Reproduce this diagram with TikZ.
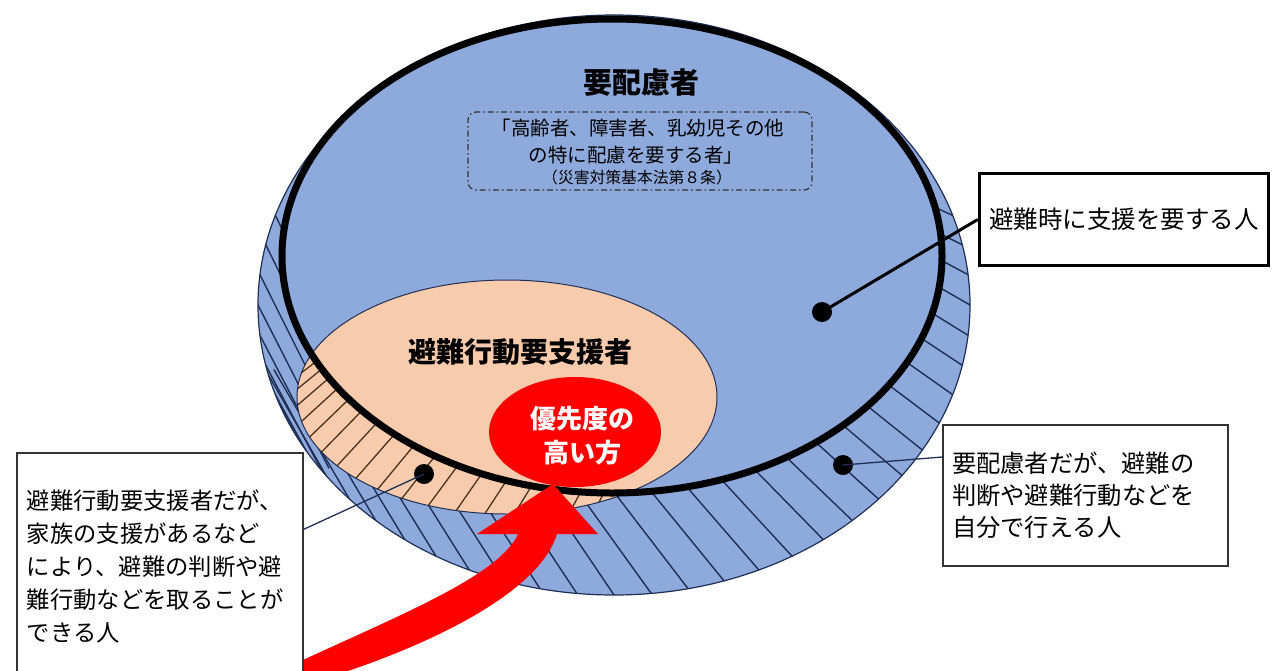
\documentclass[tikz,border=0pt]{standalone}
\usepackage{fontspec}
\setmainfont{Noto Sans CJK JP}
\usetikzlibrary{shapes.geometric}
\definecolor{ringblue}{HTML}{8EA9DB}
\definecolor{peach}{HTML}{F8CBAD}
\definecolor{navy}{HTML}{1F2F55}
\definecolor{hatchbrown}{HTML}{4A3220}
\definecolor{boxline}{HTML}{333333}
\begin{document}
\begin{tikzpicture}[x=1pt,y=-1pt,
  infobox/.style={draw=boxline, line width=1.3pt, fill=white, align=left, inner ysep=0pt},
  dot/.style={circle, fill=black, minimum size=20pt, inner sep=0pt},
  pointer/.style={draw=navy, line width=1.3pt},
  bluehatch/.style={draw=navy, line width=1.4pt},
  brownhatch/.style={draw=hatchbrown, line width=1.3pt},
  lbl/.style={inner sep=0pt}]
\useasboundingbox[fill=white] (0,0) rectangle (1274,670);

% outer ellipse
\path[fill=ringblue] (614,305) ellipse [x radius=356pt, y radius=290pt];
\begin{scope}
  \clip (614,305) ellipse [x radius=356pt, y radius=290pt];
  \foreach \t in {198,192,...,-18} {
    \pgfmathsetmacro{\ph}{\t>=90 ? 56+(\t-90)*7/90 : 30+\t*26/90}
    \pgfmathsetmacro{\px}{614+356*cos(\t)}
    \pgfmathsetmacro{\py}{305+290*sin(\t)}
    \pgfmathsetmacro{\dx}{150*cos(\ph)}
    \pgfmathsetmacro{\dy}{150*sin(\ph)}
    \draw[bluehatch] ({\px-(\dx)},{\py-(\dy)}) -- ({\px+\dx},{\py+\dy});
  }
\end{scope}
% inner area of thick ellipse
\path[fill=ringblue] (612,256) ellipse [x radius=330pt, y radius=237pt];
% orange ellipse
\path[fill=peach] (507,397) ellipse [x radius=210pt, y radius=117pt];
\begin{scope}
  \clip (507,397) ellipse [x radius=210pt, y radius=117pt];
  \foreach \t in {200,192,...,64} {
    \pgfmathsetmacro{\ps}{58-(\t-90)*0.2}
    \pgfmathsetmacro{\px}{507+210*cos(\t)}
    \pgfmathsetmacro{\py}{397+117*sin(\t)}
    \pgfmathsetmacro{\dx}{60*cos(\ps)}
    \pgfmathsetmacro{\dy}{60*sin(\ps)}
    \draw[brownhatch] ({\px-(\dx)},{\py+\dy}) -- ({\px+\dx},{\py-(\dy)});
  }
\end{scope}
\begin{scope}
  \clip (612,256) ellipse [x radius=330pt, y radius=237pt];
  \path[fill=peach] (507,397) ellipse [x radius=210pt, y radius=117pt];
\end{scope}
\draw[navy, line width=1pt] (507,397) ellipse [x radius=210pt, y radius=117pt];
\draw[navy, line width=1.2pt] (614,305) ellipse [x radius=356pt, y radius=290pt];
\draw[black, line width=7pt] (612,256) ellipse [x radius=330pt, y radius=237pt];

% texts in the big ellipse
\node[lbl, font=\fontsize{29pt}{29pt}\selectfont\bfseries] (title) at (641,83) {要配慮者};
\node[draw=boxline, line width=1.2pt, dash pattern=on 6pt off 3pt on 1.5pt off 3pt,
      rounded corners=8pt, minimum width=344pt, minimum height=78pt, inner sep=0pt] (defbox) at (640,151) {};
\node[lbl, font=\fontsize{19.5pt}{19.5pt}\selectfont] (def1) at (638,128) {「高齢者、障害者、乳幼児その他};
\node[lbl, font=\fontsize{19.5pt}{19.5pt}\selectfont] (def2) at (636,155) {の特に配慮を要する者」};
\node[lbl, font=\fontsize{15.8pt}{15.8pt}\selectfont] (def3) at (637,177) {（災害対策基本法第８条）};
\node[lbl, font=\fontsize{28pt}{28pt}\selectfont\bfseries] (sub) at (520,352) {避難行動要支援者};

% dots
\node[dot] (d1) at (822,312) {};
\node[dot] (d2) at (843,465) {};
\node[dot] (d3) at (424,474) {};

% red arrow and priority ellipse
\fill[red] (300,672) -- (303,660) .. controls (400,615) and (500,575) .. (518,534)
  -- (477,534) -- (553,484) -- (598,534) -- (557,534)
  .. controls (540,590) and (440,640) .. (345,672) -- cycle;
\node[ellipse, fill=red, minimum width=172pt, minimum height=110pt, inner sep=0pt] (prio) at (575,432) {};
\node[lbl, text=white, align=center, font=\fontsize{26pt}{34pt}\selectfont\bfseries] (priotext) at (582,436) {優先度の\\高い方};

% boxes
\node[draw=black, line width=3.5pt, fill=white, minimum width=289pt, minimum height=92pt, inner sep=0pt,
      font=\fontsize{24.5pt}{24.5pt}\selectfont] (box1) at (1124,219.5) {避難時に支援を要する人};
\node[infobox, minimum width=285pt, minimum height=141pt, text width=267pt, inner xsep=9pt,
      font=\fontsize{24.3pt}{32pt}\selectfont] (box2) at (1085.5,495.5) {要配慮者だが、避難の\\判断や避難行動などを\\自分で行える人};
\node[infobox, minimum width=286pt, minimum height=227pt, text width=266pt, inner xsep=10pt,
      font=\fontsize{23.3pt}{33pt}\selectfont] (box3) at (160,566.5) {避難行動要支援者だが、\\家族の支援があるなど\\により、避難の判断や避\\難行動などを取ることが\\できる人};

% pointers
\draw[black, line width=3pt] (d1.center) -- (box1.west);
\draw[pointer] (d2.center) -- ([yshift=38.5pt]box2.west);
\draw[pointer] (d3.center) -- ([yshift=-77pt]box3.north east);
\end{tikzpicture}
\end{document}
